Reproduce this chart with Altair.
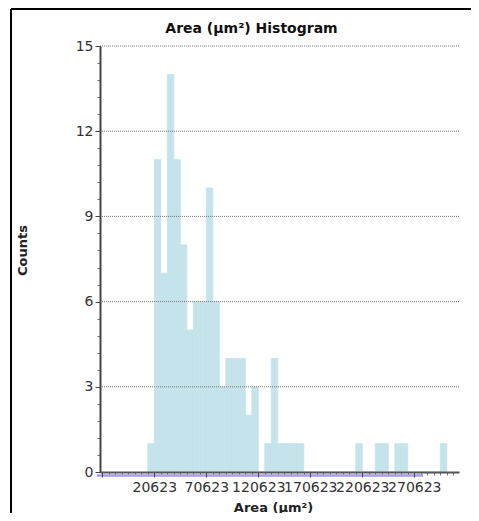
import altair as alt
import pandas as pd

# ---- data ----
BIN_ORIGIN = 14373
BIN_WIDTH = 6250
counts = [1, 11, 7, 14, 11, 8, 5, 6, 6, 10, 6, 3, 4, 4, 4, 2, 3, 0, 1, 4, 1, 1, 1, 1,
          0, 0, 0, 0, 0, 0, 0, 0,
          1, 0, 0, 1, 1, 0, 1, 1, 0, 0, 0, 0, 0, 1]
x_major_ticks = [-29377, 20623, 70623, 120623, 170623, 220623, 270623]
x_minor_ticks = [20623 + BIN_WIDTH * j for j in range(-8, 47)]
y_major_ticks = [0, 3, 6, 9, 12, 15]
y_grid_values = [3, 6, 9, 12, 15]
y_minor_ticks = [round(0.6 * i, 1) for i in range(0, 26)]
X_DOMAIN = [-31600, 313600]
Y_DOMAIN = [0, 15]
range_bar = [-34500, 279000]

lo = [BIN_ORIGIN + BIN_WIDTH * i for i in range(len(counts))]
df = pd.DataFrame({"lo": lo, "hi": [v + BIN_WIDTH for v in lo],
                   "count": counts, "zero": [0] * len(counts)})
df_range = pd.DataFrame({"a": [range_bar[0]], "b": [range_bar[1]]})
df_grid = pd.DataFrame({"g": y_grid_values})

W, H = 359, 426
FONT = "DejaVu Sans"
BAR = "#c5e3ea"

xscale = alt.Scale(domain=X_DOMAIN, nice=False, zero=False)
yscale = alt.Scale(domain=Y_DOMAIN, nice=False)

x_axis = alt.Axis(
    values=x_major_ticks, format="d",
    labelExpr="datum.value < 0 ? '' : datum.label",
    labelOverlap=False, labelBound=False, labelFlush=False,
    labelFont=FONT, labelFontSize=14, labelColor="#333", labelPadding=3,
    tickSize=5, tickColor="#444", tickWidth=1,
    domainColor="#555", domainWidth=2, grid=False,
    title="Area (µm²)", titleFont=FONT, titleFontSize=13, titleFontWeight="bold",
    titleColor="#222", titleX=173, titleY=35, titleBaseline="middle", titleAlign="center",
    zindex=1,
)
y_axis = alt.Axis(
    values=y_major_ticks, labelFont=FONT, labelFontSize=14, labelColor="#333",
    labelPadding=2, tickSize=5, tickColor="#444",
    domainColor="#444", domainWidth=2, grid=False,
    title="Counts", titleFont=FONT, titleFontSize=13, titleFontWeight="bold",
    titleColor="#222", titleX=-78, titleY=204, titleAngle=270,
    titleBaseline="middle", titleAlign="center",
    zindex=1,
)
x_minor_axis = alt.Axis(values=x_minor_ticks, labels=False, domain=False, grid=False,
                        tickSize=3, tickColor="#777", title=None, orient="bottom")
y_minor_axis = alt.Axis(values=y_minor_ticks, labels=False, domain=False, grid=False,
                        tickSize=3, tickColor="#777", title=None, orient="left")

bars = alt.Chart(df).mark_bar(color=BAR, stroke=BAR, strokeWidth=0.8).encode(
    x=alt.X("lo:Q", scale=xscale, axis=x_axis),
    x2="hi:Q",
    y=alt.Y("count:Q", scale=yscale, axis=y_axis),
    y2="zero:Q",
)
minor = alt.Chart(df).mark_point(opacity=0).encode(
    x=alt.X("lo:Q", scale=xscale, axis=x_minor_axis),
    y=alt.Y("count:Q", scale=yscale, axis=y_minor_axis),
)
grid = alt.Chart(df_grid).mark_rule(color="#777777", strokeWidth=1, strokeDash=[1, 1]).encode(
    y=alt.Y("g:Q", scale=yscale, axis=None),
    x=alt.value(0), x2=alt.value(W),
)
purple = alt.Chart(df_range).mark_rule(color="#a79ce8", strokeWidth=2.5).encode(
    x=alt.X("a:Q", scale=xscale, axis=None),
    x2="b:Q",
    y=alt.value(H + 3.5),
)
frame_left = alt.Chart(df_range).mark_rule(color="#000", strokeWidth=2).encode(
    x=alt.value(-89), y=alt.value(-37), y2=alt.value(H + 60))
frame_top = alt.Chart(df_range).mark_rule(color="#000", strokeWidth=2).encode(
    x=alt.value(-89), x2=alt.value(W + 20), y=alt.value(-37))

chart = alt.layer(bars, minor, grid, purple, frame_left, frame_top).resolve_axis(
    x="independent", y="independent"
).properties(
    width=W, height=H,
    title=alt.TitleParams("Area (µm²) Histogram", font=FONT, fontSize=14, fontWeight="bold",
                          color="#111", anchor="middle", dx=-28, dy=53, offset=18,
                          frame="group", baseline="middle"),
    autosize=alt.AutoSizeParams(type="none"),
    padding={"left": 92, "top": 38, "right": 12, "bottom": 41},
).configure(background="white", view=alt.ViewConfig(stroke=None))

chart.save("out.html", embed_options={"renderer": "svg", "actions": False})
